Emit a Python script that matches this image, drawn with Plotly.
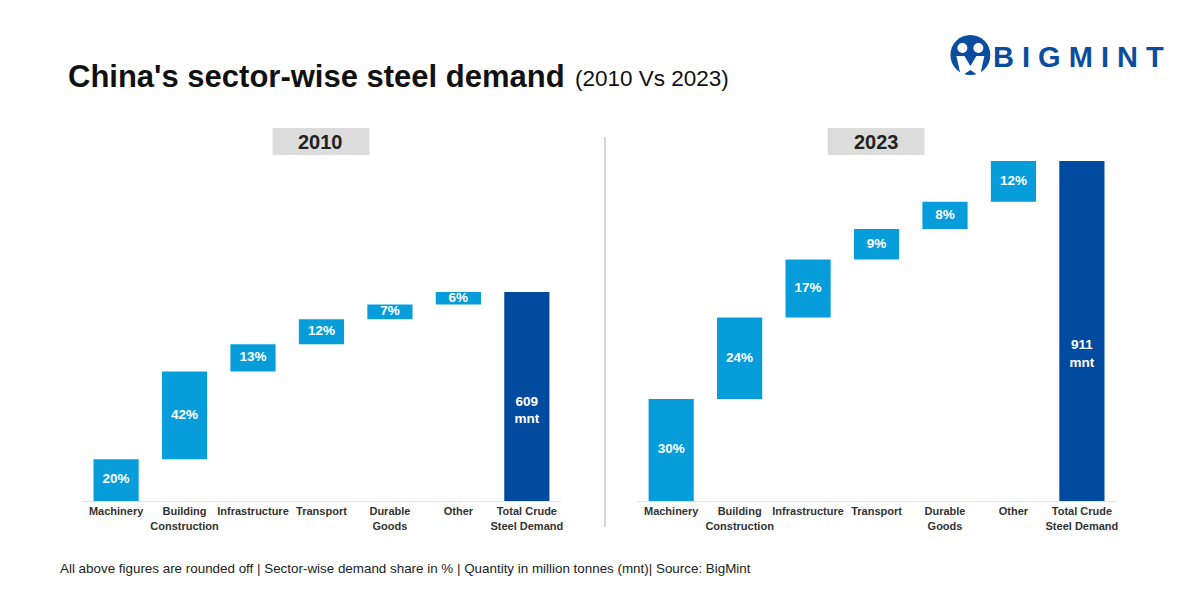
import numpy as np
import plotly.graph_objects as go

categories = ["Machinery", "Building Construction", "Infrastructure", "Transport",
              "Durable Goods", "Other", "Total Crude Steel Demand"]
tick_labels = ["Machinery", "Building<br>Construction", "Infrastructure", "Transport",
               "Durable<br>Goods", "Other", "Total Crude<br>Steel Demand"]
share_2010 = [20, 42, 13, 12, 7, 6]
share_2023 = [30, 24, 17, 9, 8, 12]
total_2010 = 609
total_2023 = 911

LIGHT = "#079DDB"
DARK = "#004A9F"
FONT = "Liberation Sans"

fig = go.Figure()


def add_panel(shares, total, xa, ya):
    measures = ["relative"] * len(shares) + ["total"]
    fig.add_trace(go.Waterfall(
        x=categories, y=list(shares) + [0], measure=measures,
        increasing=dict(marker=dict(color=LIGHT)),
        totals=dict(marker=dict(color=DARK)),
        connector=dict(visible=False),
        hoverinfo="skip", xaxis=xa, yaxis=ya, showlegend=False,
    ))
    s = np.array(shares, dtype=float)
    cum = np.cumsum(s)
    mids = cum - s / 2
    tot = cum[-1]
    ys = list(mids) + [tot * 0.43]
    texts = [f"<b>{v}%</b>" for v in shares] + [f"<b>{total}<br>mnt</b>"]
    fig.add_trace(go.Scatter(
        x=categories, y=ys, mode="text", text=texts,
        textfont=dict(color="white", size=13.5, family=FONT),
        hoverinfo="skip", xaxis=xa, yaxis=ya, showlegend=False,
    ))


add_panel(share_2010, total_2010, "x", "y")
add_panel(share_2023, total_2023, "x2", "y2")

xcommon = dict(type="category", categoryorder="array", categoryarray=categories,
               tickvals=categories, ticktext=[f"<b>{t}</b>" for t in tick_labels],
               tickfont=dict(size=11, color="#333333", family=FONT), tickangle=0,
               showgrid=False, zeroline=False, showline=True, linecolor="#e2e2e2",
               linewidth=1, ticks="", fixedrange=True)
ycommon = dict(showgrid=False, zeroline=False, showticklabels=False, showline=False,
               fixedrange=True)

fig.update_layout(
    width=1200, height=600, margin=dict(l=0, r=0, t=0, b=0),
    paper_bgcolor="white", plot_bgcolor="white",
    bargap=0.34, waterfallgap=0.34,
    xaxis=dict(domain=[82 / 1200, 562 / 1200], anchor="y", **xcommon),
    xaxis2=dict(domain=[638 / 1200, 1118 / 1200], anchor="y2", **xcommon),
    yaxis=dict(domain=[99 / 600, 439 / 600], range=[0, 100 * 340 / 209], anchor="x", **ycommon),
    yaxis2=dict(domain=[99 / 600, 439 / 600], range=[0, 100], anchor="x2", **ycommon),
    font=dict(family=FONT),
)

shapes = [
    dict(type="rect", xref="paper", yref="paper", x0=273 / 1200, x1=370 / 1200,
         y0=1 - 155 / 600, y1=1 - 128 / 600, fillcolor="#dcdcdc", line=dict(width=0)),
    dict(type="rect", xref="paper", yref="paper", x0=829 / 1200, x1=926 / 1200,
         y0=1 - 155 / 600, y1=1 - 128 / 600, fillcolor="#dcdcdc", line=dict(width=0)),
    dict(type="line", xref="paper", yref="paper", x0=606 / 1200, x1=606 / 1200,
         y0=1 - 527 / 600, y1=1 - 137 / 600, line=dict(color="#b0b0b0", width=1)),
    # logo icon
    dict(type="circle", xref="paper", yref="paper", x0=952 / 1200, x1=992 / 1200,
         y0=1 - 75 / 600, y1=1 - 35 / 600, fillcolor="#0A4DA0", line=dict(width=0)),
    dict(type="circle", xref="paper", yref="paper", x0=959 / 1200, x1=969 / 1200,
         y0=1 - 53 / 600, y1=1 - 43 / 600, fillcolor="white", line=dict(width=0)),
    dict(type="circle", xref="paper", yref="paper", x0=975 / 1200, x1=985 / 1200,
         y0=1 - 53 / 600, y1=1 - 43 / 600, fillcolor="white", line=dict(width=0)),
    dict(type="path", xref="paper", yref="paper",
         path=(f"M {958/1200} {1-56/600} L {966/1200} {1-56/600} L {972/1200} {1-66/600} "
               f"L {978/1200} {1-56/600} L {986/1200} {1-56/600} L {982/1200} {1-74/600} "
               f"L {978/1200} {1-74/600} L {972/1200} {1-70/600} L {966/1200} {1-74/600} "
               f"L {962/1200} {1-74/600} Z"),
         fillcolor="white", line=dict(width=0)),
]

annotations = [
    dict(text="<b>China's sector-wise steel demand</b>", xref="paper", yref="paper",
         x=66 / 1200, y=1 - 76 / 600, xanchor="left", yanchor="middle", showarrow=False,
         font=dict(size=31, color="#111111", family=FONT)),
    dict(text="(2010 Vs 2023)", xref="paper", yref="paper",
         x=574 / 1200, y=1 - 78 / 600, xanchor="left", yanchor="middle", showarrow=False,
         font=dict(size=22.5, color="#111111", family=FONT)),
    dict(text="<b>2010</b>", xref="paper", yref="paper", x=321.5 / 1200, y=1 - 141.5 / 600,
         xanchor="center", yanchor="middle", showarrow=False,
         font=dict(size=20, color="#222222", family=FONT)),
    dict(text="<b>2023</b>", xref="paper", yref="paper", x=877.5 / 1200, y=1 - 141.5 / 600,
         xanchor="center", yanchor="middle", showarrow=False,
         font=dict(size=20, color="#222222", family=FONT)),
    dict(text="All above figures are rounded off | Sector-wise demand share in % | "
              "Quantity in million tonnes (mnt)| Source: BigMint",
         xref="paper", yref="paper", x=58 / 1200, y=1 - 568 / 600, xanchor="left",
         yanchor="middle", showarrow=False, font=dict(size=13.4, color="#222222", family=FONT)),
    dict(text="<b>B I G M I N T</b>", xref="paper", yref="paper", x=993 / 1200, y=1 - 57 / 600,
         xanchor="left", yanchor="middle", showarrow=False,
         font=dict(size=29, color="#0A4DA0", family=FONT)),
]

fig.update_layout(shapes=shapes, annotations=annotations)
fig.write_html("out.html", config={"displayModeBar": False},
               post_script="document.body.style.margin='0';document.body.style.overflow='hidden';")
